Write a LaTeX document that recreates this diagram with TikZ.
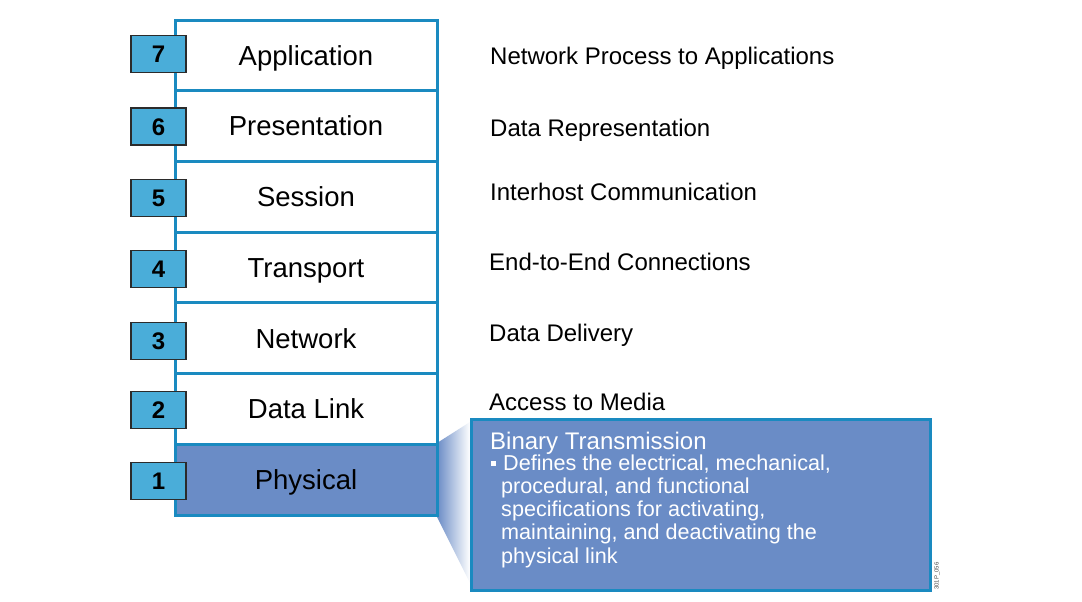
\documentclass[tikz,border=0pt]{standalone}
\usepackage{fontspec}
\setmainfont{Liberation Sans}
\definecolor{stackblue}{HTML}{1A8AC0}
\definecolor{numblue}{HTML}{4AADD9}
\definecolor{physblue}{HTML}{6A8CC6}
\definecolor{numedge}{HTML}{2B2B2B}
\begin{document}
\begin{tikzpicture}[x=1pt,y=-1pt,
  layerbox/.style={draw=stackblue, line width=3pt, minimum width=262pt, minimum height=70.7pt,
    inner sep=0pt, text height=19.5pt, text depth=0pt, font=\fontsize{27.5}{30}\selectfont},
  numbox/.style={draw=numedge, fill=numblue, line width=1.6pt, minimum width=55pt, minimum height=37pt,
    inner sep=0pt, text height=17pt, text depth=0pt, font=\bfseries\fontsize{24}{24}\selectfont},
  desc/.style={anchor=base west, inner sep=0pt, font=\fontsize{24}{28}\selectfont},
  cline/.style={anchor=base west, inner sep=0pt, text=white, font=\fontsize{21.6}{23}\selectfont}
]
\useasboundingbox (0,0) rectangle (1082,602);
\fill[white] (0,0) rectangle (1082,602);
% wedge
\coordinate (w1) at (437,443);
\coordinate (w2) at (470,422);
\coordinate (w3) at (470,583);
\coordinate (w4) at (437,517);
\shade[left color=physblue, right color=white] (w1) -- (w2) -- (w3) -- (w4) -- cycle;
% stack
\node[layerbox] (l7) at (306,55.5) {Application};
\node[layerbox] (l6) at (306,126.2) {Presentation};
\node[layerbox] (l5) at (306,196.9) {Session};
\node[layerbox] (l4) at (306,267.6) {Transport};
\node[layerbox] (l3) at (306,338.3) {Network};
\node[layerbox] (l2) at (306,409) {Data Link};
\node[layerbox, fill=physblue] (l1) at (306,479.7) {Physical};
% numbers
\node[numbox] (n7) at (158.5,54) {7};
\node[numbox] (n6) at (158.5,126.5) {6};
\node[numbox] (n5) at (158.5,198) {5};
\node[numbox] (n4) at (158.5,269) {4};
\node[numbox] (n3) at (158.5,341) {3};
\node[numbox] (n2) at (158.5,410) {2};
\node[numbox] (n1) at (158.5,481) {1};
% descriptions
\node[desc] (d7) at (490,64.6) {Network Process to Applications};
\node[desc] (d6) at (490,136) {Data Representation};
\node[desc] (d5) at (490,200.6) {Interhost Communication};
\node[desc] (d4) at (489,270.6) {End-to-End Connections};
\node[desc] (d3) at (489,341.6) {Data Delivery};
\node[desc] (d2) at (489,410.6) {Access to Media};
% callout
\node[draw=stackblue, fill=physblue, line width=3pt, minimum width=459pt, minimum height=171pt,
  anchor=north west, inner sep=0pt] (callout) at (470,418) {};
\node[anchor=base west, inner sep=0pt, text=white, font=\fontsize{24}{28}\selectfont] (ctitle) at (490,449) {Binary Transmission};
\node[cline] (c1) at (491,470) {\rule[4pt]{5pt}{5pt}\hspace{7pt}Defines the electrical, mechanical,};
\node[cline] (c2) at (501,493.3) {procedural, and functional};
\node[cline] (c3) at (501,516.6) {specifications for activating,};
\node[cline] (c4) at (501,539.9) {maintaining, and deactivating the};
\node[cline] (c5) at (501,563.2) {physical link};
\node[rotate=90, anchor=west, inner sep=0pt, text=black!70, font=\fontsize{6}{6}\selectfont] (code) at (937,590) {301P\_056};
\end{tikzpicture}
\end{document}
